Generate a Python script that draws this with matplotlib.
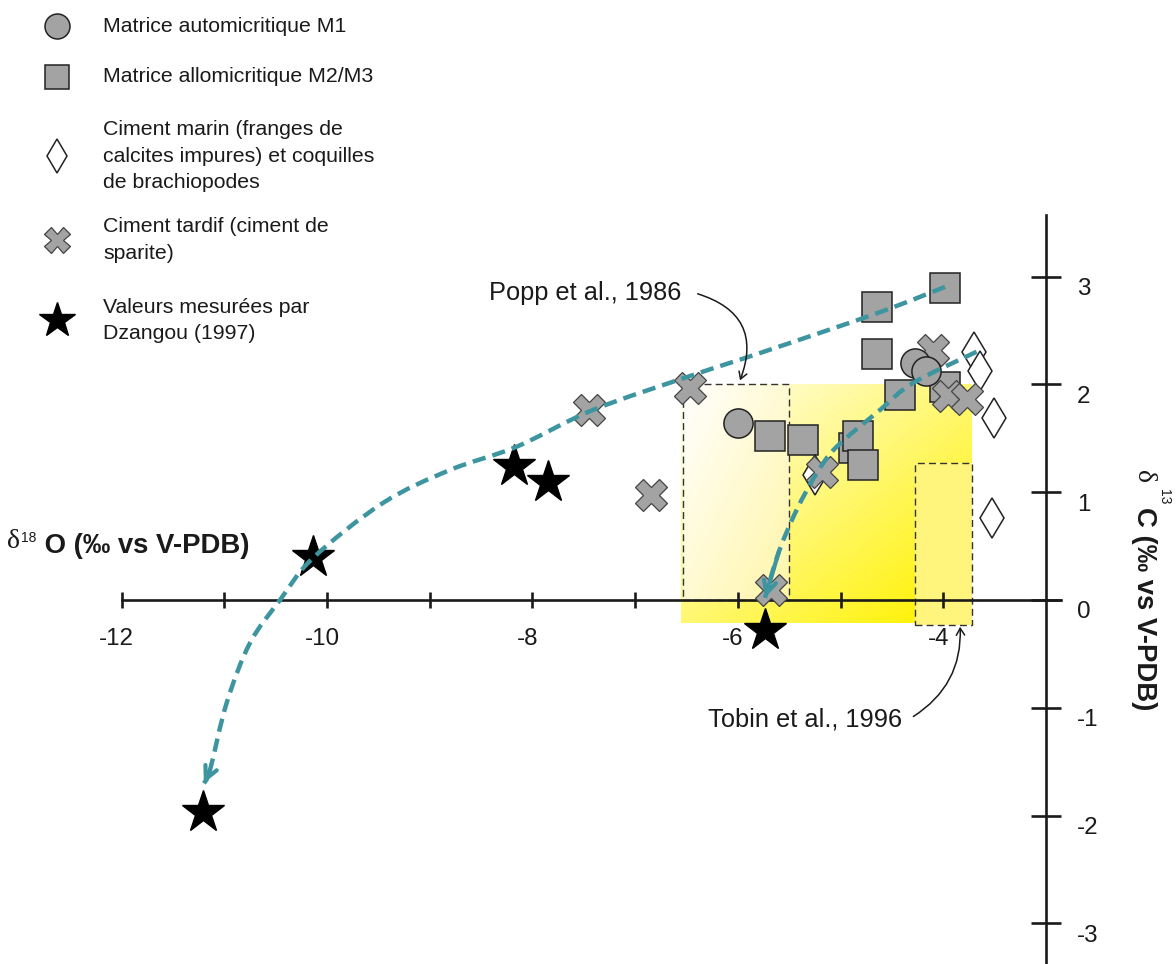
import numpy as np
import matplotlib
matplotlib.use("Agg")
import matplotlib.pyplot as plt
from matplotlib.path import Path
from matplotlib.patches import PathPatch, Rectangle, FancyArrowPatch
from matplotlib.transforms import ScaledTranslation

plt.rcParams["font.family"] = ["Liberation Sans", "DejaVu Sans"]
plt.rcParams["axes.unicode_minus"] = False

# ---- data: d18O (x) and d13C (y), permil vs V-PDB ----
m1_x = [-6.00, -4.28, -4.17]
m1_y = [1.64, 2.20, 2.12]

m23_x = [-3.98, -4.65, -4.65, -4.42, -3.98, -5.69, -5.37, -4.87, -4.83, -4.78]
m23_y = [2.89, 2.72, 2.28, 1.90, 1.98, 1.52, 1.48, 1.41, 1.52, 1.25]

marin_x = [-3.70, -3.64, -3.51, -3.53, -5.25]
marin_y = [2.30, 2.12, 1.69, 0.76, 1.16]

tardif_x = [-6.47, -7.45, -6.85, -5.18, -5.68, -4.10, -3.95, -3.77]
tardif_y = [1.97, 1.76, 0.97, 1.19, 0.09, 2.32, 1.89, 1.86]

dzangou_x = [-11.205, -10.134, -8.177, -7.852, -5.736]
dzangou_y = [-1.964, 0.402, 1.246, 1.097, -0.278]

# reference fields (x0, x1, y0, y1)
popp_box = (-6.53, -5.50, 0.0, 2.0)
yellow_field = (-6.55, -3.72, -0.21, 2.0)
tobin_box = (-4.28, -3.72, -0.23, 1.27)

# trend arrows (guide points along each curve)
trend1_x = [-3.984, -4.649, -5.785, -6.437, -7.411, -8.154, -8.803, -9.456,
            -10.137, -10.458, -10.751, -10.978, -11.140, -11.200]
trend1_y = [2.904, 2.659, 2.291, 2.087, 1.763, 1.422, 1.206, 0.900,
            0.390, 0.000, -0.399, -0.955, -1.577, -1.700]
trend2_x = [-3.675, -4.295, -4.616, -5.038, -5.233, -5.428, -5.600, -5.736]
trend2_y = [2.303, 2.013, 1.763, 1.422, 1.175, 0.835, 0.450, 0.020]

xtick_vals = [-12, -11, -10, -9, -8, -7, -6, -5, -4]
xtick_labels = ["-12", "", "-10", "", "-8", "", "-6", "", "-4"]
ytick_vals = [-3, -2, -1, 0, 1, 2, 3]
ytick_labels = ["-3", "-2", "-1", "0", "1", "2", "3"]

legend_labels = [
    "Matrice automicritique M1",
    "Matrice allomicritique M2/M3",
    "Ciment marin (franges de\ncalcites impures) et coquilles\nde brachiopodes",
    "Ciment tardif (ciment de\nsparite)",
    "Valeurs mesur\u00e9es par\nDzangou (1997)",
]

TEAL = "#3d95a0"
GREY = "#a3a3a3"
EDGE = "#222222"
INK = "#1a1a1a"

W, H = 1176, 964
fig = plt.figure(figsize=(W / 100, H / 100), dpi=100)
ax = fig.add_axes([0, 0, 1, 1])
ax.set_facecolor("none")


def fx(px):
    return px / W


def fy(py):
    return 1 - py / H


# ---- yellow fields ----
def gradient(x0, x1, y0, y1, c_light, c_strong, offset=0.0, n=200):
    u = np.linspace(0, 1, n)
    U, V = np.meshgrid(u, u)          # V: 0 at top row, 1 at bottom row
    t = np.clip(offset + (U + V) / 2, 0, 1)
    c0 = np.array(matplotlib.colors.to_rgb(c_light))
    c1 = np.array(matplotlib.colors.to_rgb(c_strong))
    img = c0[None, None, :] * (1 - t[..., None]) + c1[None, None, :] * t[..., None]
    ax.imshow(img, extent=(x0, x1, y0, y1), origin="upper", aspect="auto",
              interpolation="bilinear", zorder=0)


fx0, fx1, fy0, fy1 = yellow_field
gradient(fx0, fx1, fy0, fy1, "#ffffff", "#fff200", offset=0.05)
px0, px1, py0, py1 = popp_box
gradient(px0, px1, py0, py1, "#ffffff", "#fff6a8")
tx0, tx1, ty0, ty1 = tobin_box
ax.add_patch(Rectangle((tx0, ty0), tx1 - tx0, ty1 - ty0, facecolor="#fff57c",
                       edgecolor="none", zorder=0.5))

for (x0, x1, y0, y1) in (popp_box, tobin_box):
    ax.add_patch(Rectangle((x0, y0), x1 - x0, y1 - y0, facecolor="none",
                           edgecolor="#333333", lw=1.0, ls=(0, (5, 3)), zorder=1))

# ---- axes ----
ax.set_xlim(-13.185, -1.734)
ax.set_ylim(-3.377, 5.566)
for s in ("top", "left"):
    ax.spines[s].set_visible(False)
ax.spines["bottom"].set_position(("data", 0))
ax.spines["bottom"].set_bounds(-12, -2.85)
ax.spines["right"].set_position(("data", -3))
ax.spines["right"].set_bounds(-3.4, 3.57)
for s in ("bottom", "right"):
    ax.spines[s].set_linewidth(1.9)
    ax.spines[s].set_color(INK)
    ax.spines[s].set_zorder(2)

ax.yaxis.tick_right()
ax.set_xticks(xtick_vals)
ax.set_xticklabels(xtick_labels, fontsize=17.4, color=INK)
ax.set_yticks(ytick_vals)
ax.set_yticklabels(ytick_labels, fontsize=17.4, color=INK)
ax.tick_params(axis="x", direction="inout", length=11.5, width=1.9, pad=14.3,
               color=INK)
ax.tick_params(axis="y", direction="inout", length=22, width=1.9, pad=11.5,
               color=INK)
for lab in ax.get_xticklabels():
    lab.set_transform(lab.get_transform() + ScaledTranslation(-0.05, 0, fig.dpi_scale_trans))
for lab in ax.get_yticklabels():
    lab.set_transform(lab.get_transform() + ScaledTranslation(0, -0.10, fig.dpi_scale_trans))

# ---- points ----
mk = dict(linestyle="none", markeredgecolor=EDGE, markeredgewidth=1.1)
mk_x = dict(linestyle="none", markeredgecolor="#444444", markeredgewidth=0.9)
ax.plot(m23_x, m23_y, marker="s", ms=21, mfc=GREY, zorder=3, **mk)
ax.plot(marin_x, marin_y, marker="d", ms=20, mfc="white", zorder=3.2, **mk)
ax.plot(tardif_x, tardif_y, marker="X", ms=23, mfc=GREY, zorder=3.4, **mk_x)
ax.plot(m1_x, m1_y, marker="o", ms=21, mfc=GREY, zorder=3.6, **mk)
ax.plot(dzangou_x, dzangou_y, marker="*", ms=32, mfc="black",
        markeredgecolor="black", linestyle="none", zorder=3.8)


# ---- trend curves ----
def smooth_path(xs, ys):
    pts = np.column_stack([xs, ys])
    verts = [pts[0]]
    codes = [Path.MOVETO]
    n = len(pts)
    for i in range(n - 1):
        p0 = pts[max(i - 1, 0)]
        p1 = pts[i]
        p2 = pts[i + 1]
        p3 = pts[min(i + 2, n - 1)]
        verts += [p1 + (p2 - p0) / 6, p2 - (p3 - p1) / 6, p2]
        codes += [Path.CURVE4] * 3
    return Path(verts, codes)


for xs, ys in ((trend1_x, trend1_y), (trend2_x, trend2_y)):
    ax.add_patch(PathPatch(smooth_path(xs, ys), facecolor="none", edgecolor=TEAL,
                           lw=3.2, ls=(0, (3, 1.6)), capstyle="butt", zorder=5))
    ax.annotate("", xy=(xs[-1], ys[-1]), xytext=(xs[-2], ys[-2]),
                arrowprops=dict(arrowstyle="->,head_length=0.9,head_width=0.45",
                                color=TEAL, lw=3.0, shrinkA=0, shrinkB=0,
                                linestyle="-"), zorder=5)

# ---- literature annotations ----
ax.text(fx(489), fy(293), "Popp et al., 1986", transform=fig.transFigure,
        fontsize=18.3, ha="left", va="center", color=INK)
ax.add_patch(FancyArrowPatch((fx(695), fy(293)), (fx(739), fy(383)),
                             transform=fig.transFigure,
                             connectionstyle="arc3,rad=-0.55",
                             arrowstyle="->,head_length=5,head_width=3",
                             lw=1.1, color=INK, zorder=6))
ax.text(fx(902), fy(720), "Tobin et al., 1996", transform=fig.transFigure,
        fontsize=18.3, ha="right", va="center", color=INK)
ax.add_patch(FancyArrowPatch((fx(911), fy(718)), (fx(960), fy(624)),
                             transform=fig.transFigure,
                             connectionstyle="arc3,rad=0.3",
                             arrowstyle="->,head_length=5,head_width=3",
                             lw=1.1, color=INK, zorder=6))

# ---- axis titles ----
SERIF = ["Liberation Serif", "DejaVu Serif"]
xt = ax.text(fx(249), fy(553), " O (\u2030 vs V-PDB)", transform=fig.transFigure,
             fontsize=19.8, fontweight="bold", ha="right", va="baseline",
             color=INK)
sup = ax.annotate("18", xy=(0, 0.55), xycoords=xt, fontsize=10, ha="right",
                  va="bottom", color=INK)
ax.annotate("\u03b4", xy=(0, 0), xycoords=sup, xytext=(-1, -7),
            textcoords="offset points", fontsize=20, ha="right", va="bottom",
            family=SERIF, color=INK)

ax.text(fx(1137), fy(470), "\u03b4", transform=fig.transFigure, rotation=-90,
        rotation_mode="anchor", fontsize=20, ha="left", va="baseline",
        family=SERIF, color=INK)
ax.text(fx(1160), fy(489), "13", transform=fig.transFigure, rotation=-90,
        rotation_mode="anchor", fontsize=10, ha="left", va="baseline",
        color=INK)
ax.text(fx(1137), fy(507), "C (\u2030 vs V-PDB)", transform=fig.transFigure,
        rotation=-90, rotation_mode="anchor", fontsize=19.8, fontweight="bold",
        ha="left", va="baseline", color=INK)

# ---- key (top-left) ----
key_styles = [
    dict(marker="o", ms=18, mfc=GREY, **mk),
    dict(marker="s", ms=17.3, mfc=GREY, **mk),
    dict(marker="d", ms=17, mfc="white", **mk),
    dict(marker="X", ms=18.5, mfc=GREY, **mk_x),
    dict(marker="*", ms=26.5, mfc="black", markeredgecolor="black",
         linestyle="none"),
]
key_rows = [26, 77, 156, 240, 320.5]
for row, style, label in zip(key_rows, key_styles, legend_labels):
    ax.plot([fx(56.7)], [fy(row)], transform=fig.transFigure, clip_on=False,
            zorder=6, **style)
    ax.text(fx(103), fy(row), label, transform=fig.transFigure, fontsize=15.3,
            ha="left", va="center", linespacing=1.48, color=INK)

fig.savefig("out.png", dpi=100)
